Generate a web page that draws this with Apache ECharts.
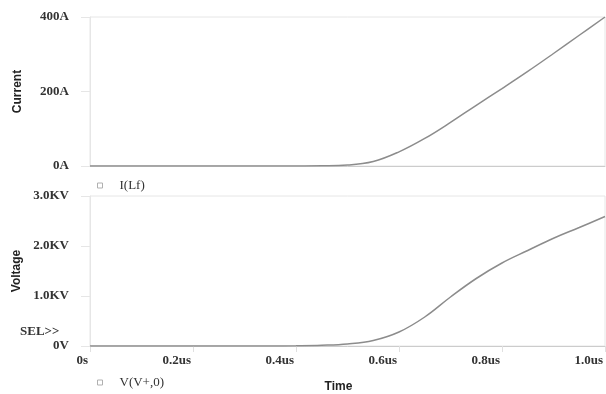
<!DOCTYPE html>
<html>
<head>
<meta charset="utf-8">
<script src="https://cdn.jsdelivr.net/npm/echarts@6/dist/echarts.min.js"></script>
<style>
  html, body { margin: 0; padding: 0; background: #fff; }
  #main { width: 606px; height: 394px; }
</style>
</head>
<body>
<div id="main"></div>
<script>
/* time in us */
var timeUs = [0, 0.1, 0.2, 0.3, 0.35, 0.4, 0.45, 0.5, 0.55, 0.6, 0.65, 0.7, 0.75, 0.8, 0.85, 0.9, 0.95, 1.0];
/* I(Lf) in A */
var currentA = [0, 0, 0, 0, 0, 0.2, 0.6, 2.5, 12, 38, 74, 117, 163, 208, 254, 302, 351, 400];
/* V(V+,0) in V */
var voltageV = [0, 0, 0, 0, 1, 4, 14, 40, 110, 280, 580, 980, 1350, 1660, 1910, 2155, 2370, 2590];

var curveColor = '#8c8c8c';
var labelFont = { fontFamily: 'Liberation Serif', fontWeight: 'bold', fontSize: 13, color: '#333' };
var nameFont = { fontFamily: 'Liberation Sans', fontWeight: 'bold', fontSize: 12, color: '#222' };

function pairs(xs, ys) {
  return xs.map(function (x, i) { return [x, ys[i]]; });
}

var myChart = echarts.init(document.getElementById('main'));
var option = {
  animation: false,
  backgroundColor: '#fff',
  grid: [
    { left: 90, right: 1, top: 17, height: 149, show: true, borderColor: '#e6e6e6', borderWidth: 1 },
    { left: 90, right: 1, top: 196, height: 150, show: true, borderColor: '#e6e6e6', borderWidth: 1 }
  ],
  xAxis: [
    {
      gridIndex: 0, type: 'value', min: 0, max: 1.0, interval: 0.2,
      axisLine: { lineStyle: { color: '#cccccc' } },
      axisTick: { show: false }, axisLabel: { show: false }, splitLine: { show: false }
    },
    {
      gridIndex: 1, type: 'value', min: 0, max: 1.0, interval: 0.2,
      name: 'Time', nameLocation: 'middle', nameGap: 35,
      nameTextStyle: Object.assign({ padding: [0, 18, 0, 0] }, nameFont),
      axisLine: { lineStyle: { color: '#cccccc' } },
      axisTick: { show: true, length: 6, lineStyle: { color: '#e0e0e0' } },
      axisLabel: Object.assign({
        margin: 8, align: 'right', padding: [0, 2, 0, 0],
        formatter: function (v) { return v === 0 ? '0s' : v.toFixed(1) + 'us'; }
      }, labelFont),
      splitLine: { show: false }
    }
  ],
  yAxis: [
    {
      gridIndex: 0, type: 'value', min: 0, max: 400, interval: 200,
      name: 'Current', nameLocation: 'middle', nameGap: 66, nameTextStyle: nameFont,
      axisLine: { show: true, lineStyle: { color: '#e6e6e6' } },
      axisTick: { show: true, length: 9, lineStyle: { color: '#e6e6e6' } },
      axisLabel: Object.assign({ margin: 21, formatter: '{value}A' }, labelFont),
      splitLine: { show: false }
    },
    {
      gridIndex: 1, type: 'value', min: 0, max: 3000, interval: 1000,
      name: 'Voltage', nameLocation: 'middle', nameGap: 66, nameTextStyle: nameFont,
      axisLine: { show: true, lineStyle: { color: '#e6e6e6' } },
      axisTick: { show: true, length: 9, lineStyle: { color: '#e6e6e6' } },
      axisLabel: Object.assign({
        margin: 21,
        formatter: function (v) { return v === 0 ? '0V' : (v / 1000).toFixed(1) + 'KV'; }
      }, labelFont),
      splitLine: { show: false }
    }
  ],
  legend: [
    {
      data: ['I(Lf)'], left: 92, top: 174, icon: 'rect', itemWidth: 5, itemHeight: 5,
      itemStyle: { color: '#fff', borderColor: '#b0b0b0', borderWidth: 1 },
      textStyle: { fontFamily: 'Liberation Serif', fontSize: 13, color: '#333', padding: [0, 0, 0, 12] }
    },
    {
      data: ['V(V+,0)'], left: 92, top: 371, icon: 'rect', itemWidth: 5, itemHeight: 5,
      itemStyle: { color: '#fff', borderColor: '#b0b0b0', borderWidth: 1 },
      textStyle: { fontFamily: 'Liberation Serif', fontSize: 13, color: '#333', padding: [0, 0, 0, 12] }
    }
  ],
  graphic: [
    {
      type: 'text', left: 20, top: 325,
      style: { text: 'SEL>>', font: 'bold 13px "Liberation Serif"', fill: '#333' }
    }
  ],
  series: [
    {
      name: 'I(Lf)', type: 'line', xAxisIndex: 0, yAxisIndex: 0,
      data: pairs(timeUs, currentA), showSymbol: false, smooth: 0.4,
      lineStyle: { color: curveColor, width: 1.5 }, itemStyle: { color: curveColor }
    },
    {
      name: 'V(V+,0)', type: 'line', xAxisIndex: 1, yAxisIndex: 1,
      data: pairs(timeUs, voltageV), showSymbol: false, smooth: 0.4,
      lineStyle: { color: curveColor, width: 1.5 }, itemStyle: { color: curveColor }
    }
  ]
};
myChart.setOption(option);
</script>
</body>
</html>
